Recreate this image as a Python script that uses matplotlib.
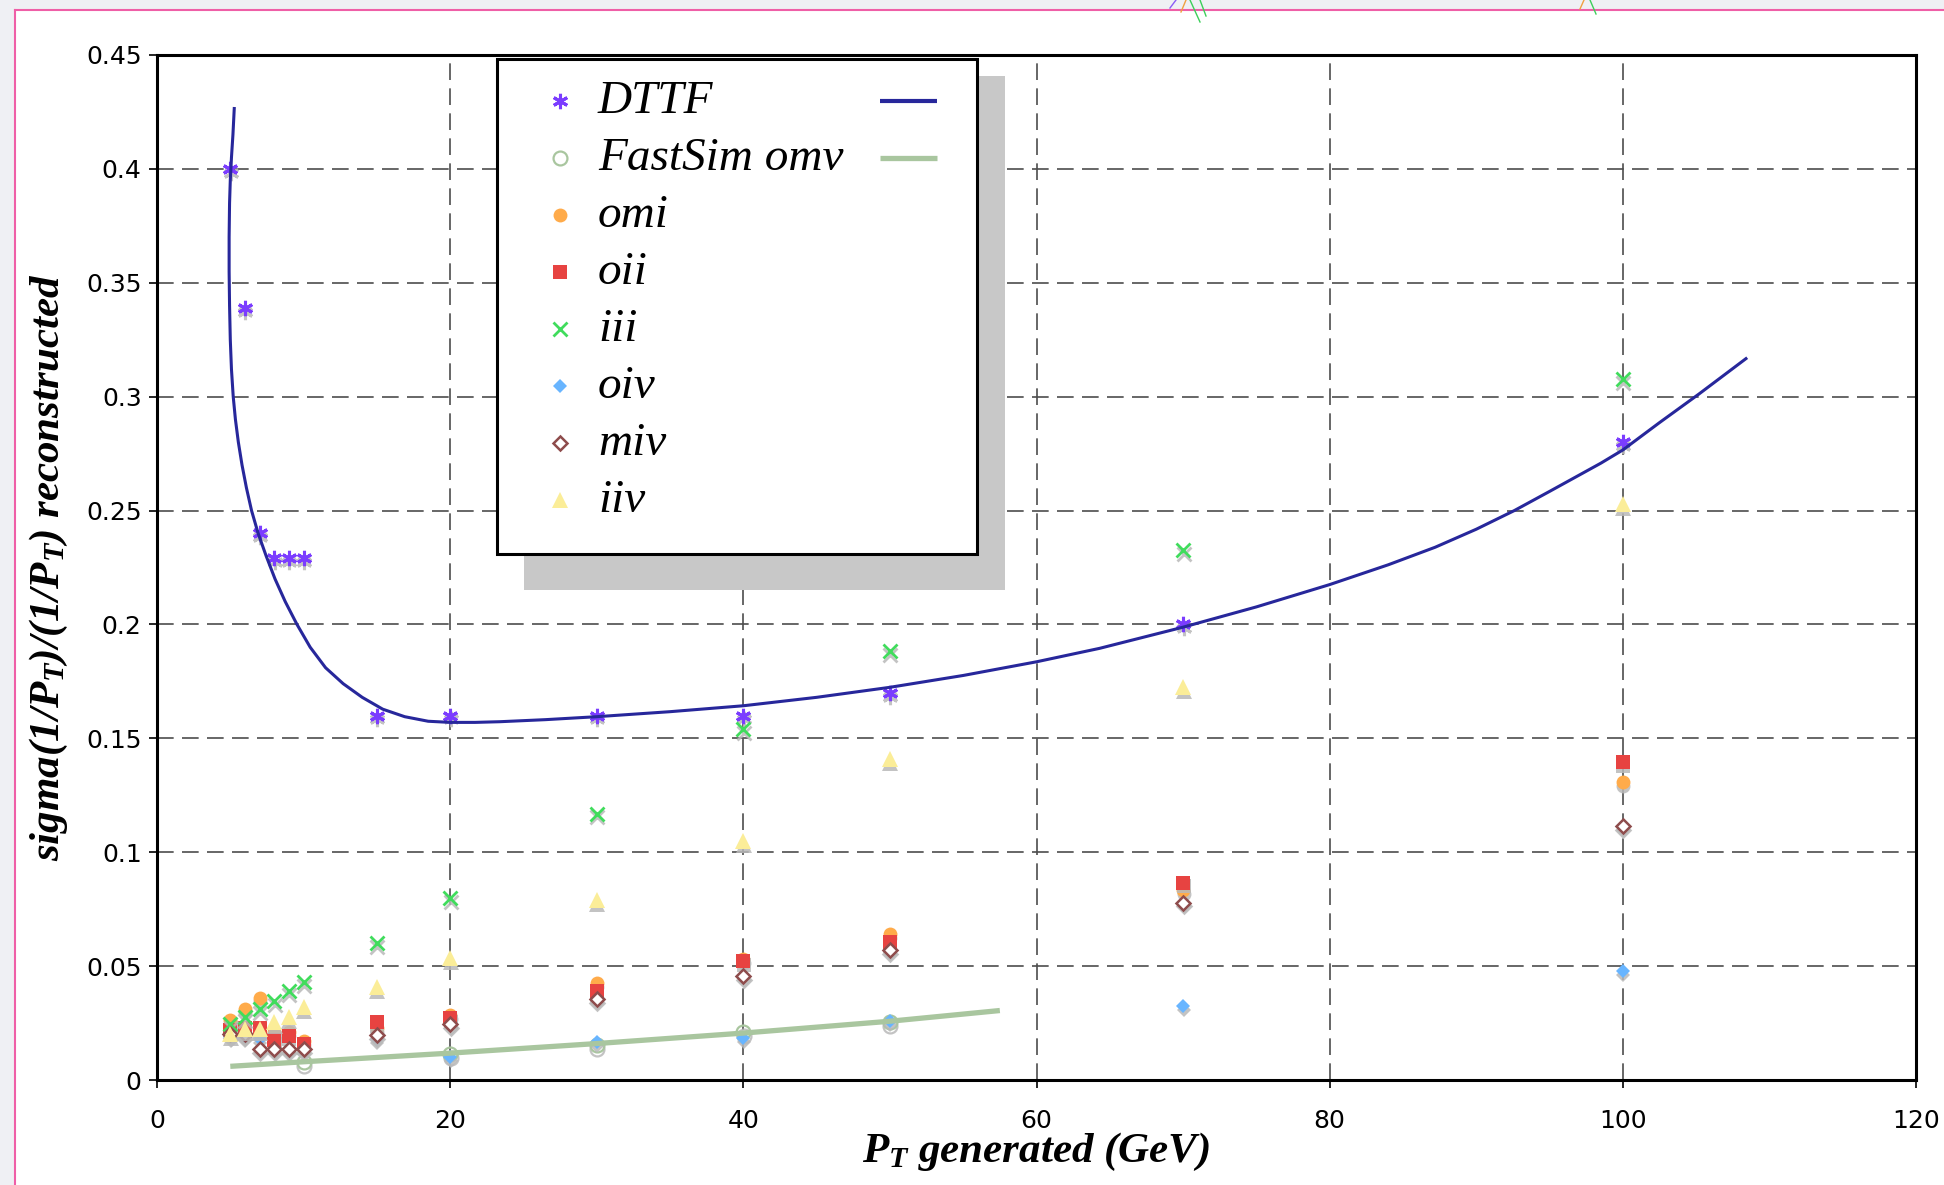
import matplotlib
matplotlib.use('Agg')
import matplotlib.pyplot as plt
import matplotlib.transforms as mtransforms
from matplotlib.patches import Rectangle
from matplotlib.lines import Line2D

# generated pT of the samples (GeV), same for every algorithm
pt = [5, 6, 7, 8, 9, 10, 15, 20, 30, 40, 50, 70, 100]

# sigma(1/pT)/(1/pT) per algorithm
dttf = [0.400, 0.339, 0.240, 0.229, 0.229, 0.229, 0.160, 0.160, 0.160, 0.160, 0.170, 0.200, 0.280]
omi = [0.0262, 0.0313, 0.0362, 0.021, 0.021, 0.017, 0.023, 0.0285, 0.0424, 0.053, 0.064, 0.0834, 0.131]
oii = [0.022, 0.023, 0.023, 0.0175, 0.0195, 0.0158, 0.0254, 0.0272, 0.039, 0.0523, 0.0607, 0.0867, 0.1397]
iii = [0.0245, 0.0275, 0.031, 0.0345, 0.039, 0.0431, 0.060, 0.080, 0.117, 0.154, 0.1885, 0.2327, 0.3077]
oiv = [0.019, 0.019, 0.018, 0.0135, 0.0135, 0.0135, 0.0178, 0.0102, 0.0165, 0.0183, 0.026, 0.0324, 0.0478]
miv = [0.020, 0.020, 0.0135, 0.0135, 0.0135, 0.0135, 0.0199, 0.0247, 0.0354, 0.0456, 0.057, 0.0779, 0.1113]
iiv = [0.0203, 0.0225, 0.0225, 0.0254, 0.0276, 0.032, 0.0409, 0.0534, 0.079, 0.105, 0.141, 0.1725, 0.253]

# FastSim omv only has a few points
fastsim_pt = [10, 20, 30, 40, 50]
fastsim = [0.0078, 0.0115, 0.0155, 0.0212, 0.0255]

# fitted curves
dttf_fit_pt = [5.27, 5.18, 5.08, 5.0, 4.95, 4.92, 4.92, 4.95, 5.0, 5.08, 5.2, 5.35, 5.55, 5.8,
               6.1, 6.45, 6.9, 7.45, 8.05, 8.75, 9.55, 10.45, 11.5, 12.7, 14.0, 15.4, 16.9,
               18.5, 20.0, 21.7, 23.4, 26.5, 30, 35, 40, 45, 50, 55, 60, 64.3, 70, 75, 80,
               84, 87.2, 90, 92.6, 95, 98.5, 100, 102.5, 105.2, 108.4]
dttf_fit = [0.4265, 0.415, 0.405, 0.395, 0.385, 0.370, 0.355, 0.340, 0.325, 0.312, 0.300,
            0.290, 0.280, 0.270, 0.260, 0.250, 0.240, 0.230, 0.220, 0.210, 0.200, 0.190,
            0.181, 0.174, 0.168, 0.1628, 0.1595, 0.1575, 0.157, 0.157, 0.1573, 0.1582,
            0.1595, 0.1617, 0.1643, 0.168, 0.1724, 0.1776, 0.1836, 0.1895, 0.1988, 0.2077,
            0.2175, 0.2262, 0.2339, 0.2418, 0.250, 0.2584, 0.2708, 0.2766, 0.2886, 0.3012,
            0.3167]
fastsim_fit_pt = [5, 10, 20, 30, 40, 50, 57.5]
fastsim_fit = [0.0060, 0.0080, 0.0118, 0.0160, 0.0206, 0.0258, 0.0305]

W, H = 1944, 1185
plt.rcParams['mathtext.fontset'] = 'custom'
plt.rcParams['mathtext.it'] = 'Liberation Serif:italic:bold'
plt.rcParams['mathtext.rm'] = 'Liberation Serif:italic:bold'
plt.rcParams['mathtext.bf'] = 'Liberation Serif:italic:bold'

fig = plt.figure(figsize=(W / 100, H / 100), dpi=100)
fig.patch.set_facecolor('#eff0f4')

def fxy(px, py):
    # pixel position in the picture -> figure fraction
    return px / W, 1 - py / H

# white page with a pink border (top and left)
fig.add_artist(Rectangle(fxy(15, H), (W - 15) / W, (H - 10) / H, transform=fig.transFigure,
                         facecolor='white', edgecolor='none', zorder=-2))
fig.add_artist(Line2D([15 / W, 15 / W], [0, 1 - 10 / H], transform=fig.transFigure,
                      color='#ef5fa7', lw=1.5, zorder=-1))
fig.add_artist(Line2D([15 / W, 1], [1 - 10 / H, 1 - 10 / H], transform=fig.transFigure,
                      color='#ef5fa7', lw=1.5, zorder=-1))

ax = fig.add_axes([157 / W, 1 - 1080 / H, (1916 - 157) / W, (1080 - 55) / H])
ax.set_facecolor('white')

# marker styles in the order Excel drew them
styles = [
    ('DTTF', pt, dttf, dict(marker=(6, 2, 0), ms=11, mew=2.2, color='#7b3cff')),
    ('FastSim omv', fastsim_pt, fastsim, dict(marker='o', ms=10, mew=1.6, mfc='none', color='#a9c69f')),
    ('omi', pt, omi, dict(marker='o', ms=10, mew=0, color='#ffab4a')),
    ('oii', pt, oii, dict(marker='s', ms=10, mew=0, color='#e74341')),
    ('iii', pt, iii, dict(marker='x', ms=10, mew=2.0, color='#40dc5c')),
    ('oiv', pt, oiv, dict(marker='D', ms=7, mew=0, color='#68b5ff')),
    ('miv', pt, miv, dict(marker='D', ms=7, mew=1.8, mfc='white', color='#8e4c4c')),
    ('iiv', pt, iiv, dict(marker='^', ms=11, mew=0, color='#fbed98')),
]

shadow = mtransforms.offset_copy(ax.transData, fig=fig, x=0.3, y=-2.8, units='points')
for i, (name, xs, ys, st) in enumerate(styles):
    sh = dict(st)
    sh['color'] = '#b9b9b9'
    if sh.get('mfc') not in (None, 'none'):
        sh['mfc'] = '#b9b9b9'
    ax.plot(xs, ys, ls='none', transform=shadow, alpha=0.85, zorder=3 + 2 * i, **sh)
    ax.plot(xs, ys, ls='none', zorder=4 + 2 * i, **st)

ax.plot(dttf_fit_pt, dttf_fit, color='#27279b', lw=2.2, zorder=30, solid_joinstyle='round')
ax.plot(fastsim_fit_pt, fastsim_fit, color='#a9c69f', lw=3.8, zorder=30, solid_capstyle='butt')

ax.set_xlim(0, 120)
ax.set_ylim(0, 0.45)
ax.set_xticks(range(0, 121, 20))
ax.set_yticks([0, 0.05, 0.1, 0.15, 0.2, 0.25, 0.3, 0.35, 0.4, 0.45])
ax.set_yticklabels(['0', '0.05', '0.1', '0.15', '0.2', '0.25', '0.3', '0.35', '0.4', '0.45'])
ax.tick_params(direction='out', length=6, width=1.2, labelsize=18, colors='black')
ax.tick_params(axis='x', pad=15)
ax.tick_params(axis='y', pad=5)
for lab in ax.get_xticklabels() + ax.get_yticklabels():
    lab.set_fontfamily('DejaVu Sans')
ax.grid(True, color='#4d4d4d', lw=1.2, dashes=(10, 5))
ax.set_axisbelow(True)
for s in ax.spines.values():
    s.set_linewidth(2.2)
    s.set_color('black')

lab_font = dict(family='Liberation Serif', weight='bold', style='italic')
ax.set_xlabel(r'$P_T$ generated (GeV)', fontsize=31, **lab_font)
ax.xaxis.set_label_coords(0.5, -0.05)
ax.set_ylabel(r'sigma(1/$P_T$)/(1/$P_T$) reconstructed', fontsize=31, **lab_font)
ax.yaxis.set_label_coords(-0.0495, 0.5)

# legend box drawn by hand (Excel style, line samples on the right)
x0, y0 = fxy(524, 590)
x1, y1 = fxy(1005, 76)
fig.add_artist(Rectangle((x0, y0), x1 - x0, y1 - y0, transform=fig.transFigure,
                         facecolor='#c8c8c8', edgecolor='none', zorder=40))
x0, y0 = fxy(497, 554)
x1, y1 = fxy(977, 59)
fig.add_artist(Rectangle((x0, y0), x1 - x0, y1 - y0, transform=fig.transFigure,
                         facecolor='white', edgecolor='black', lw=2.2, zorder=41))
rows = [101, 158, 215, 272, 329, 386, 443, 500]
for (name, xs, ys, st), py in zip(styles, rows):
    mx, my = fxy(560, py)
    fig.add_artist(Line2D([mx], [my], ls='none', transform=fig.transFigure, zorder=42, **st))
    tx, ty = fxy(598, py + 1)
    fig.text(tx, ty, name, fontsize=34, family='Liberation Serif', style='italic',
             va='center', ha='left', zorder=42)
for py, col, lw in [(101, '#27279b', 3.0), (158, '#a9c69f', 3.8)]:
    ax_, ay_ = fxy(880, py)
    bx_, by_ = fxy(937, py)
    fig.add_artist(Line2D([ax_, bx_], [ay_, by_], color=col, lw=lw, transform=fig.transFigure,
                          zorder=42, solid_capstyle='butt'))

# small coloured strokes at the top edge of the page
for (xa, ya, xb, yb, c) in [(1190, 0, 1200, 22, '#3ccf5a'), (1200, 0, 1206, 16, '#3ccf5a'),
                            (1186, 0, 1181, 12, '#f0a040'), (1176, 0, 1170, 8, '#8b5cf6'),
                            (1590, 0, 1596, 14, '#3ccf5a'), (1584, 0, 1580, 9, '#f0a040')]:
    fig.add_artist(Line2D([xa / W, xb / W], [1 - ya / H, 1 - yb / H], color=c, lw=1.0,
                          transform=fig.transFigure))

fig.savefig('out.png', dpi=100)
